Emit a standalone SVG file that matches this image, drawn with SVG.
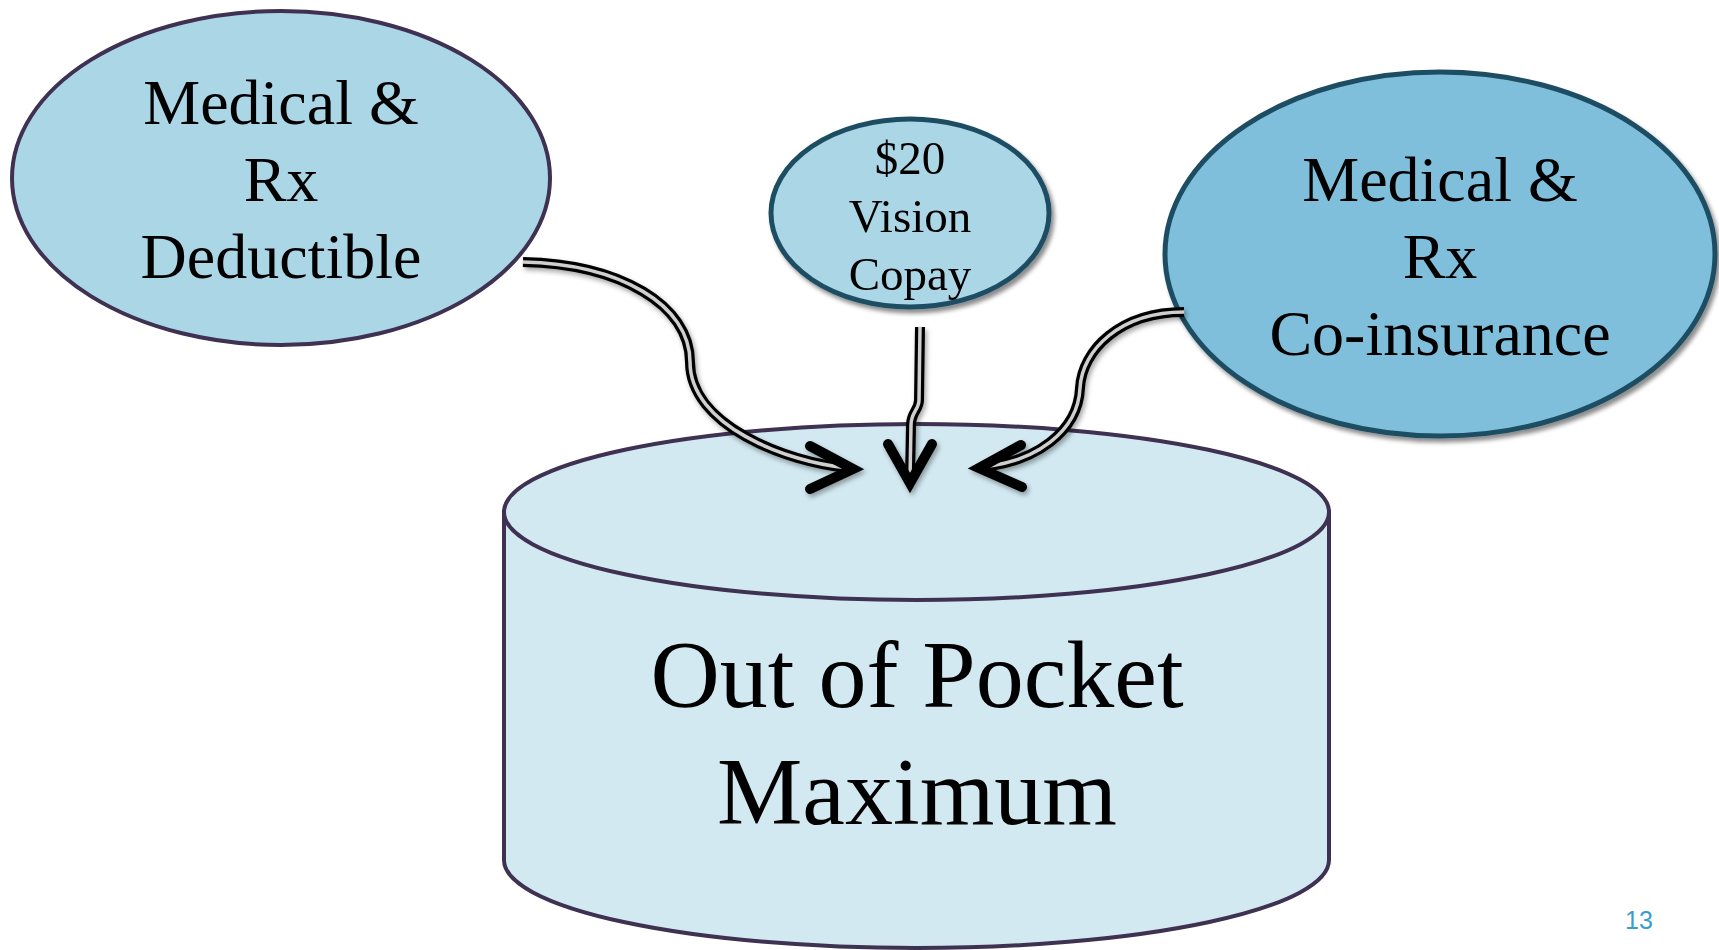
<svg xmlns="http://www.w3.org/2000/svg" width="1719" height="950" viewBox="0 0 1719 950">
  <style>
    .lbl { font-family: "Liberation Serif", "Times New Roman", serif; fill: #000; text-anchor: middle; }
    .big { font-size: 64px; }
    .small { font-size: 47px; }
    .huge { font-size: 96px; }
    .wire-out { fill: none; stroke: #000; stroke-width: 10; stroke-linecap: butt; }
    .wire-in { fill: none; stroke: #cfcfcf; stroke-width: 3.5; stroke-linecap: butt; }
    .head { fill: none; stroke: #000; stroke-width: 10; stroke-linecap: round; stroke-linejoin: miter; }
    .page { font-family: "Liberation Sans", Arial, sans-serif; font-size: 25px; fill: #3a9fc8; text-anchor: middle; }
  </style>
  <defs>
    <filter id="shadow" x="-10%" y="-10%" width="125%" height="130%">
      <feDropShadow dx="3" dy="4" stdDeviation="2" flood-color="#000" flood-opacity="0.45"/>
    </filter>
    <filter id="soft" x="-10%" y="-10%" width="125%" height="130%">
      <feDropShadow dx="2" dy="3" stdDeviation="2.5" flood-color="#000" flood-opacity="0.35"/>
    </filter>
  </defs>

  <!-- Out of pocket maximum cylinder -->
  <g id="node-oop">
    <path d="M504,512 L504,860 A412.5,88 0 0 0 1329,860 L1329,512 Z" fill="#d3e9f2" stroke="#3f3151" stroke-width="4"/>
    <ellipse cx="916.5" cy="512" rx="412.5" ry="88" fill="#d3e9f2" stroke="#3f3151" stroke-width="4"/>
    <text class="lbl huge" x="917" y="707">Out of Pocket</text>
    <text class="lbl huge" x="917" y="824">Maximum</text>
  </g>

  <!-- Deductible -->
  <g id="node-deductible">
    <ellipse cx="281" cy="178" rx="269" ry="167" fill="#abd6e6" stroke="#3f3151" stroke-width="4"/>
    <text class="lbl big" x="281" y="124">Medical &amp;</text>
    <text class="lbl big" x="281" y="201">Rx</text>
    <text class="lbl big" x="281" y="278">Deductible</text>
  </g>

  <!-- Vision copay -->
  <g id="node-vision" filter="url(#shadow)">
    <ellipse cx="910" cy="213" rx="139" ry="94" fill="#abd6e6" stroke="#1f4e63" stroke-width="5"/>
    <text class="lbl small" x="910" y="174">$20</text>
    <text class="lbl small" x="910" y="232">Vision</text>
    <text class="lbl small" x="910" y="290">Copay</text>
  </g>

  <!-- Co-insurance -->
  <g id="node-coinsurance" filter="url(#shadow)">
    <ellipse cx="1440" cy="254" rx="275" ry="182" fill="#7fbfdb" stroke="#1f4e63" stroke-width="5"/>
    <text class="lbl big" x="1440" y="201">Medical &amp;</text>
    <text class="lbl big" x="1440" y="278">Rx</text>
    <text class="lbl big" x="1440" y="355">Co-insurance</text>
  </g>

  <!-- Connectors: doubled wire with an open chevron head -->
  <g id="connectors" filter="url(#soft)">
    <g id="edge-deductible">
      <path class="wire-out" d="M523,262 C620,264 690,305 690,362 C690,425 785,462 848,468"/>
      <path class="wire-in" d="M523,262 C620,264 690,305 690,362 C690,425 785,462 848,468"/>
      <polyline class="head" points="810,446 853,469 810,489"/>
    </g>
    <g id="edge-vision">
      <path class="wire-out" d="M920,327 L919,400 C919,410 911,412 911,425 L910,478"/>
      <path class="wire-in" d="M920,327 L919,400 C919,410 911,412 911,425 L910,478"/>
      <polyline class="head" points="888,444 910,483 932,444"/>
    </g>
    <g id="edge-coinsurance">
      <path class="wire-out" d="M1184,312 C1120,312 1082,350 1080,388 C1078,432 1035,462 982,467"/>
      <path class="wire-in" d="M1184,312 C1120,312 1082,350 1080,388 C1078,432 1035,462 982,467"/>
      <polyline class="head" points="1021,445 979,468 1022,487"/>
    </g>
  </g>

  <text class="page" x="1639" y="929">13</text>
</svg>
